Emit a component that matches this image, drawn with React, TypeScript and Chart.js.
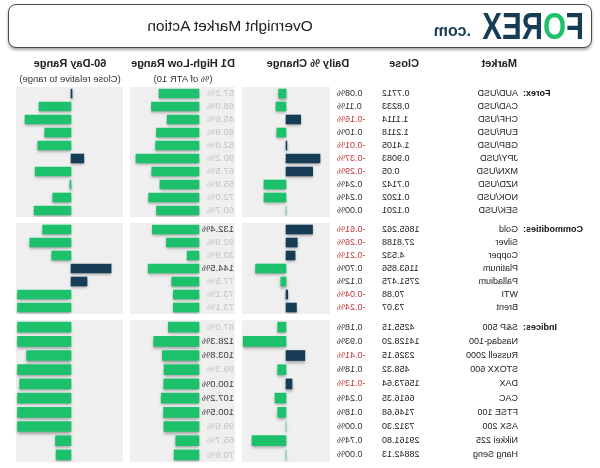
import React, { useEffect, useRef } from "react";
import { Chart, registerables } from "chart.js";

Chart.register(...registerables);

// ---------- DATA ----------
const forexNames = ["AUD/USD", "CAD/USD", "CHF/USD", "EUR/USD", "GBP/USD", "JPY/USD", "MXN/USD", "NZD/USD", "NOK/USD", "SEK/USD"];
const forexClose = ["0.7712", "0.8233", "1.1114", "1.2118", "1.4105", "0.9083", "0.05", "0.7142", "0.1202", "0.1201"];
const forexDaily = [0.08, 0.11, -0.16, 0.1, -0.01, -0.37, -0.29, 0.24, 0.24, 0.0];
const forexD1 = [57.2, 68.0, 45.6, 60.9, 62.0, 90.2, 67.5, 55.9, 72.0, 60.7];
const forexRange60 = [-2, 60, 86, 49, 62, -24, 67, 2, 34, 69];

const commNames = ["Gold", "Silver", "Copper", "Platinum", "Palladium", "WTI", "Brent"];
const commClose = ["1865.262", "27.8188", "4.532", "1163.856", "2751.475", "70.88", "73.07"];
const commDaily = [-0.61, -0.26, -0.21, 0.7, 0.12, -0.04, -0.24];
const commD1 = [132.4, 92.9, 33.9, 144.5, 77.5, 73.1, 73.1];
const commRange60 = [53, 77, 36, -75, -30, 100, 100];

const indNames = ["S&P 500", "Nasdaq-100", "Russell 2000", "STOXX 600", "DAX", "CAC", "FTSE 100", "ASX 200", "Nikkei 225", "Hang Seng"];
const indClose = ["4255.15", "14128.20", "2326.15", "458.32", "15673.64", "6616.35", "7146.68", "7312.30", "29161.80", "28842.13"];
const indDaily = [0.18, 0.93, -0.41, 0.18, -0.13, 0.24, 0.18, 0.0, 0.74, 0.0];
const indD1 = [87.0, 128.3, 103.8, 99.3, 100.0, 107.2, 100.5, 99.6, 65.7, 70.6];
const indRange60 = [100, 100, 83, 100, 96, 100, 100, 100, 29, 28];

const columnHeaders = ["Market", "Close", "Daily % Change", "D1 High-Low Range", "60-Day Range"];
const columnSubHeaders = ["(% of ATR 10)", "(Close relative to range)"];
const TITLE = "Overnight Market Action";

// ---------- STYLE ----------
const GREEN = "#1dc06b";
const NAVY = "#173c55";
const PANEL = "#efefef";
const RED = "#c0393b";
const FONT = '"Liberation Sans", Arial, sans-serif';
const W = 600;
const ZERO_DAILY = 314;
const D1_BASE = 401;
const ZERO_R60 = 529;
const R60_K = 0.535;

type Section = {
  group: string;
  names: string[];
  close: string[];
  daily: number[];
  d1: number[];
  r60: number[];
  top: number;
  height: number;
  dailyK: number;
  d1K: number;
  bar: number;
};

const sections: Section[] = [
  { group: "Forex:", names: forexNames, close: forexClose, daily: forexDaily, d1: forexD1, r60: forexRange60, top: 87, height: 130, dailyK: 92, d1K: 0.7, bar: 9 },
  { group: "Commodities:", names: commNames, close: commClose, daily: commDaily, d1: commD1, r60: commRange60, top: 223, height: 91, dailyK: 43.5, d1K: 0.352, bar: 9 },
  { group: "Indices:", names: indNames, close: indClose, daily: indDaily, d1: indD1, r60: indRange60, top: 320, height: 142, dailyK: 46, d1K: 0.353, bar: 10 },
];

function SectionChart({ s }: { s: Section }) {
  const ref = useRef<HTMLCanvasElement | null>(null);
  useEffect(() => {
    if (!ref.current) return;
    const textPlugin = {
      id: "rowsAndShadow",
      beforeDatasetsDraw(chart: any) {
        const ctx = chart.ctx;
        ctx.save();
        ctx.shadowColor = "rgba(0,0,0,0.35)";
        ctx.shadowBlur = 3;
        ctx.shadowOffsetY = 2;
      },
      afterDatasetsDraw(chart: any) {
        const ctx = chart.ctx;
        ctx.restore();
        ctx.save();
        const y = chart.scales.y;
        ctx.textBaseline = "middle";
        s.names.forEach((name, i) => {
          const py = y.getPixelForValue(i);
          if (i === 0) {
            ctx.font = `bold 9px ${FONT}`;
            ctx.fillStyle = "#111";
            ctx.textAlign = "right";
            ctx.fillText(s.group, 77, py);
          }
          ctx.font = `9px ${FONT}`;
          ctx.fillStyle = "#222";
          ctx.textAlign = "left";
          ctx.fillText(name, 82, py);
          ctx.textAlign = "right";
          ctx.fillText(s.close[i], 218, py);
          const d = s.daily[i];
          ctx.fillStyle = d < 0 ? RED : "#333";
          ctx.fillText(d.toFixed(2) + "%", 263, py);
          const r = s.d1[i];
          ctx.fillStyle = r >= 100 ? "#3a3a3a" : "#c4c4c4";
          ctx.textAlign = "left";
          ctx.font = `9.5px ${FONT}`;
          ctx.fillText(r.toFixed(1) + "%", 366, py);
        });
        ctx.restore();
      },
    };
    const chart = new Chart(ref.current, {
      type: "bar",
      data: {
        labels: s.names,
        datasets: [
          {
            data: s.daily,
            xAxisID: "xd",
            yAxisID: "y",
            backgroundColor: s.daily.map((v) => (v >= 0 ? GREEN : NAVY)),
            barThickness: s.bar,
            grouped: false,
          } as any,
          {
            data: s.d1,
            xAxisID: "xr",
            yAxisID: "y",
            backgroundColor: GREEN,
            barThickness: s.bar,
            grouped: false,
          } as any,
          {
            data: s.r60,
            xAxisID: "xs",
            yAxisID: "y",
            backgroundColor: s.r60.map((v) => (v >= 0 ? GREEN : NAVY)),
            barThickness: s.bar,
            grouped: false,
          } as any,
        ],
      },
      options: {
        indexAxis: "y",
        animation: false,
        responsive: false,
        maintainAspectRatio: false,
        layout: { padding: 0 },
        plugins: { legend: { display: false }, tooltip: { enabled: false } },
        scales: {
          y: { type: "category", display: false, offset: true },
          xd: { axis: "x", type: "linear", display: false, min: -ZERO_DAILY / s.dailyK, max: (W - ZERO_DAILY) / s.dailyK },
          xr: { axis: "x", type: "linear", display: false, min: -D1_BASE / s.d1K, max: (W - D1_BASE) / s.d1K },
          xs: { axis: "x", type: "linear", display: false, min: -ZERO_R60 / R60_K, max: (W - ZERO_R60) / R60_K },
        } as any,
      },
      plugins: [textPlugin],
    });
    return () => chart.destroy();
  }, [s]);
  return (
    <canvas
      ref={ref}
      width={W}
      height={s.height}
      style={{ position: "absolute", left: 0, top: s.top, width: W, height: s.height }}
    />
  );
}

export default function App() {
  useEffect(() => {
    document.body.style.margin = "0";
  }, []);
  const abs = (o: any) => ({ position: "absolute" as const, ...o });
  return (
    <div
      style={{
        position: "relative",
        width: 600,
        height: 468,
        overflow: "hidden",
        background: "#fff",
        fontFamily: FONT,
        color: "#222",
        transform: "scaleX(-1)",
      }}
    >
      {/* header box */}
      <div
        style={abs({
          left: 8,
          top: 4,
          width: 582,
          height: 42,
          border: "1px solid #4a4a4a",
          borderRadius: 8,
          boxShadow: "0 2px 3px rgba(0,0,0,0.35)",
          background: "#fff",
        })}
      />
      <div
        style={abs({
          left: 16,
          top: 9,
          fontSize: 36,
          lineHeight: "36px",
          fontWeight: 900,
          color: NAVY,
          transform: "scaleX(0.82)",
          transformOrigin: "left top",
          whiteSpace: "nowrap",
        })}
      >
        F<span style={{ color: GREEN }}>O</span>REX
      </div>
      <div style={abs({ left: 129, top: 23, fontSize: 16, lineHeight: "16px", fontWeight: 700, color: NAVY })}>.com</div>
      <div style={abs({ left: 370, top: 17, width: 0, display: "flex", justifyContent: "center", fontSize: 15.5, lineHeight: "18px", whiteSpace: "nowrap", color: "#222" })}>
        <span>{TITLE}</span>
      </div>

      {/* column headers */}
      <div style={abs({ left: 83, top: 57, fontSize: 11, fontWeight: 700, lineHeight: "13px" })}>{columnHeaders[0]}</div>
      {[
        [columnHeaders[1], 196, 57, true],
        [columnHeaders[2], 292, 57, true],
        [columnHeaders[3], 417, 57, true],
        [columnHeaders[4], 530, 57, true],
        [columnSubHeaders[0], 417, 72, false],
        [columnSubHeaders[1], 530, 72, false],
      ].map(([t, cx, top, bold], i) => (
        <div
          key={i}
          style={abs({
            left: cx as number,
            top: top as number,
            width: 0,
            display: "flex",
            justifyContent: "center",
            whiteSpace: "nowrap",
            fontSize: bold ? 11 : 9.5,
            fontWeight: bold ? 700 : 400,
            lineHeight: "13px",
            color: bold ? "#222" : "#333",
          })}
        >
          <span>{t as string}</span>
        </div>
      ))}

      {/* panels */}
      {sections.map((s, i) => (
        <React.Fragment key={"p" + i}>
          <div style={abs({ left: 270, top: s.top, width: 88, height: s.height, background: PANEL })} />
          <div style={abs({ left: 365, top: s.top, width: 105, height: s.height, background: PANEL })} />
          <div style={abs({ left: 477, top: s.top, width: 107, height: s.height, background: PANEL })} />
        </React.Fragment>
      ))}

      {sections.map((s, i) => (
        <SectionChart key={i} s={s} />
      ))}
    </div>
  );
}
